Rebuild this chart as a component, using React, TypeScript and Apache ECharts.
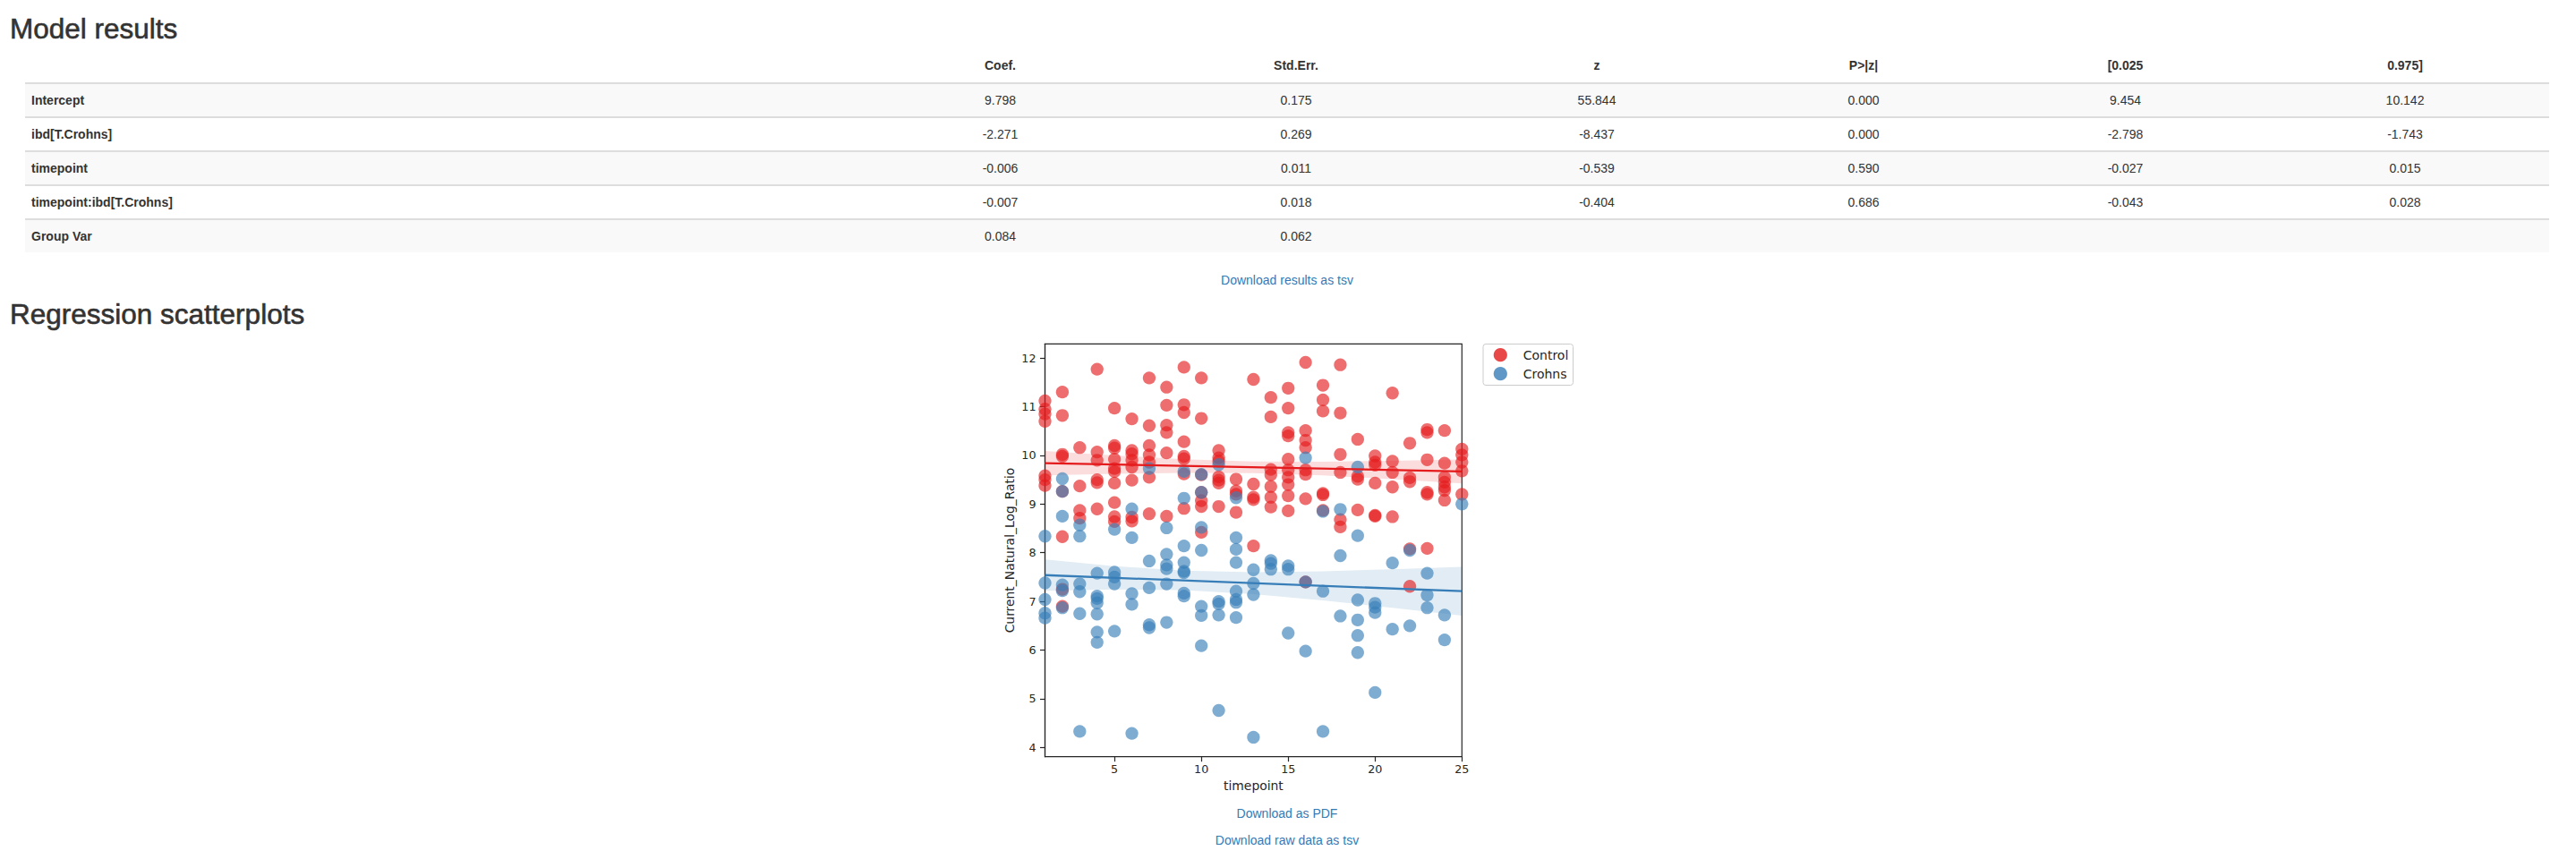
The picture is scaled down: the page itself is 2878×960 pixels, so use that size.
import React, { useEffect, useRef } from "react";
import * as echarts from "echarts";

// ---------------- DATA ----------------
const tableColumns = ["Coef.", "Std.Err.", "z", "P>|z|", "[0.025", "0.975]"];
const tableRowLabels = ["Intercept", "ibd[T.Crohns]", "timepoint", "timepoint:ibd[T.Crohns]", "Group Var"];
const tableCells = [
  ["9.798", "0.175", "55.844", "0.000", "9.454", "10.142"],
  ["-2.271", "0.269", "-8.437", "0.000", "-2.798", "-1.743"],
  ["-0.006", "0.011", "-0.539", "0.590", "-0.027", "0.015"],
  ["-0.007", "0.018", "-0.404", "0.686", "-0.043", "0.028"],
  ["0.084", "0.062", "", "", "", ""],
];

const groupNames = ["Control", "Crohns"];
const timepoints = [1, 2, 3, 4, 5, 6, 7, 8, 9, 10, 11, 12, 13, 14, 15, 16, 17, 18, 19, 20, 21, 22, 23, 24, 25];

// Current_Natural_Log_Ratio per timepoint, Control group
const controlByTimepoint = [
  [11.12, 10.95, 10.85, 10.7, 9.58, 9.5, 9.38],
  [11.3, 10.82, 10.02, 9.98, 9.26, 8.33, 7.25, 6.9],
  [10.16, 9.37, 8.87, 8.71],
  [11.77, 10.07, 9.9, 9.5, 9.44, 8.9],
  [10.97, 10.2, 10.15, 9.92, 9.73, 9.67, 9.43, 9.03, 8.74, 8.64],
  [10.75, 10.1, 10.03, 9.9, 9.76, 9.49, 8.73, 8.65],
  [11.59, 10.61, 10.2, 10.01, 9.86, 9.55, 8.8],
  [11.4, 11.03, 10.62, 10.47, 10.05, 8.75],
  [11.81, 11.04, 10.88, 10.28, 9.98, 9.93, 9.62, 8.91],
  [11.59, 10.76, 9.6, 9.24, 9.07, 8.95, 8.42],
  [10.1, 9.95, 9.88, 9.56, 9.49, 9.43, 8.95],
  [9.51, 9.27, 9.2, 8.83],
  [11.56, 9.41, 9.14, 9.09, 8.14],
  [11.19, 10.79, 9.71, 9.6, 9.36, 9.14, 8.94],
  [11.38, 10.97, 10.47, 10.4, 9.92, 9.7, 9.55, 9.4, 9.17, 8.86],
  [11.91, 10.51, 10.31, 10.16, 9.7, 9.61, 9.11, 7.4],
  [11.44, 11.14, 10.91, 9.22, 9.19, 8.87],
  [11.86, 10.87, 10.02, 9.65, 8.68, 8.53],
  [10.33, 9.57, 9.51, 8.88],
  [9.99, 9.86, 9.8, 9.43, 8.77, 8.75],
  [11.28, 9.88, 9.65, 9.35, 8.74],
  [10.25, 9.54, 9.46, 8.08, 7.31],
  [10.53, 10.47, 9.91, 9.24, 9.2, 8.09],
  [10.51, 9.84, 9.55, 9.45, 9.35, 9.28, 9.08],
  [10.13, 10.01, 9.86, 9.68, 9.2],
];

// Current_Natural_Log_Ratio per timepoint, Crohns group
const crohnsByTimepoint = [
  [8.34, 7.38, 7.04, 6.76, 6.66],
  [9.52, 9.26, 8.75, 7.34, 7.22, 6.87],
  [8.57, 8.34, 7.36, 7.2, 6.75, 4.33],
  [7.58, 7.11, 7.06, 6.97, 6.74, 6.37, 6.16],
  [8.48, 7.6, 7.5, 7.36, 6.39],
  [8.9, 8.31, 7.16, 6.94, 4.29],
  [9.73, 7.83, 7.28, 6.52, 6.46],
  [8.51, 7.97, 7.75, 7.67, 7.36, 6.57],
  [9.67, 9.12, 8.14, 7.8, 7.62, 7.59, 7.17, 7.11],
  [9.61, 9.24, 8.52, 8.05, 6.9, 6.71, 6.09],
  [9.81, 7.0, 6.95, 6.72, 4.76],
  [9.13, 8.31, 8.07, 7.8, 7.21, 7.04, 6.98, 6.67],
  [7.65, 7.37, 7.14, 4.21],
  [7.84, 7.78, 7.66],
  [7.73, 7.66, 6.35],
  [9.95, 7.4, 5.98],
  [8.85, 7.21, 4.33],
  [8.89, 7.94, 6.7],
  [9.76, 8.35, 7.03, 6.62, 6.3, 5.95],
  [6.96, 6.88, 6.77, 5.13],
  [7.79, 6.43],
  [8.05, 6.5],
  [7.58, 7.13, 6.87],
  [6.72, 6.21],
  [9.0],
];

// regression fits (read at the ends) and confidence bands
const fitTimepoints = [1, 25];
const controlFit = [9.84, 9.67];
const crohnsFit = [7.54, 7.21];
const bandTimepoints = [1, 5, 9, 13, 17, 21, 25];
const controlBandUpper = [10.09, 10.0, 9.92, 9.875, 9.87, 9.89, 9.915];
const controlBandLower = [9.59, 9.62, 9.64, 9.635, 9.59, 9.51, 9.425];
const crohnsBandUpper = [7.86, 7.725, 7.63, 7.6, 7.62, 7.66, 7.71];
const crohnsBandLower = [7.22, 7.245, 7.23, 7.15, 7.02, 6.87, 6.71];

const xTicks = [5, 10, 15, 20, 25];
const yTicks = [4, 5, 6, 7, 8, 9, 10, 11, 12];

// ---------------- STYLE / LAYOUT ----------------
const PAGE_FONT = "'Liberation Sans', Arial, Helvetica, sans-serif";
const PLOT_FONT = "'DejaVu Sans', sans-serif";
const TEXT = "#333333";
const LINK = "#337ab7";
const AXIS = "#262626";
const RED = "#e41a1c";
const BLUE = "#377eb8";
const RED_PT = "rgba(228,26,28,0.8)";
const BLUE_PT = "rgba(55,126,184,0.8)";

const colCenters = [1117.5, 1448, 1784, 2082, 2374.5, 2687];
const tableLeft = 28;
const tableWidth = 2820;
const headerBorderY = 92;
const rowPitch = 38;

function flatten(groups: number[][]) {
  const out: number[][] = [];
  groups.forEach((vals, i) => vals.forEach((v) => out.push([timepoints[i], v])));
  return out;
}

function bandSeries(name: string, upper: number[], lower: number[], fill: string) {
  return {
    type: "custom",
    name,
    silent: true,
    data: [[bandTimepoints[0], upper[0]]],
    renderItem: (_params: any, api: any) => {
      const pts: number[][] = [];
      for (let i = 0; i < bandTimepoints.length; i++) pts.push(api.coord([bandTimepoints[i], upper[i]]));
      for (let i = bandTimepoints.length - 1; i >= 0; i--) pts.push(api.coord([bandTimepoints[i], lower[i]]));
      return { type: "polygon", shape: { points: pts }, style: { fill } };
    },
  };
}

function txt(text: string, x: number, y: number, opts: any = {}) {
  const align = opts.align || "left";
  const style: any = {
    text,
    fill: opts.fill || TEXT,
    fontSize: opts.size || 14,
    fontFamily: opts.family || PAGE_FONT,
    fontWeight: opts.weight || "normal",
    align,
    textAlign: align,
    verticalAlign: "middle",
    textVerticalAlign: "middle",
  };
  if (opts.strokeWidth) {
    style.stroke = opts.fill || TEXT;
    style.lineWidth = opts.strokeWidth;
  }
  return { type: "text", x, y, silent: true, style };
}

function buildGraphics() {
  const els: any[] = [];
  els.push(txt("Model results", 11, 31.7, { size: 31.5, strokeWidth: 0.6 }));
  // table rows
  tableRowLabels.forEach((_, i) => {
    const top = headerBorderY + i * rowPitch;
    els.push({
      type: "rect",
      silent: true,
      shape: { x: tableLeft, y: top + 2, width: tableWidth, height: rowPitch - 2 },
      style: { fill: i % 2 === 0 ? "#f9f9f9" : "#ffffff" },
    });
    els.push({
      type: "rect",
      silent: true,
      shape: { x: tableLeft, y: top, width: tableWidth, height: 2 },
      style: { fill: "#dddddd" },
    });
  });
  tableColumns.forEach((c, j) => {
    els.push(txt(c, colCenters[j], 73.3, { weight: "bold", align: "center" }));
  });
  tableRowLabels.forEach((lab, i) => {
    const cy = headerBorderY + i * rowPitch + 20;
    els.push(txt(lab, 35, cy, { weight: "bold" }));
    tableCells[i].forEach((v, j) => {
      if (v) els.push(txt(v, colCenters[j], cy, { align: "center" }));
    });
  });
  els.push(txt("Download results as tsv", 1438, 312.7, { fill: LINK, align: "center" }));
  els.push(txt("Regression scatterplots", 11, 351, { size: 31.5, strokeWidth: 0.6 }));
  els.push(txt("Download as PDF", 1438, 909, { fill: LINK, align: "center" }));
  els.push(txt("Download raw data as tsv", 1438, 939, { fill: LINK, align: "center" }));

  // legend (matplotlib style box)
  els.push({
    type: "rect",
    silent: true,
    shape: { x: 1657, y: 384.5, width: 100.5, height: 46, r: 3 },
    style: { fill: "#ffffff", stroke: "#cccccc", lineWidth: 1 },
  });
  const legendColors = [RED_PT, BLUE_PT];
  groupNames.forEach((g, i) => {
    const cy = 396.7 + i * 21;
    els.push({
      type: "circle",
      silent: true,
      shape: { cx: 1676.3, cy, r: 7.6 },
      style: { fill: legendColors[i] },
    });
    els.push(txt(g, 1701.7, cy, { size: 14, family: PLOT_FONT, fill: AXIS }));
  });
  return els;
}

function buildOption() {
  const axisLineStyle = { color: AXIS, width: 1.2 };
  return {
    animation: false,
    backgroundColor: "#ffffff",
    graphic: { elements: buildGraphics() },
    grid: {
      left: 1167.5,
      top: 384.3,
      width: 465.8,
      height: 461.4,
      show: true,
      borderColor: AXIS,
      borderWidth: 1.2,
      backgroundColor: "transparent",
      containLabel: false,
      outerBoundsMode: "none",
    },
    xAxis: {
      type: "value",
      min: 1,
      max: 25,
      name: "timepoint",
      nameLocation: "middle",
      nameGap: 25,
      nameTextStyle: { fontSize: 13.9, color: AXIS, fontFamily: PLOT_FONT },
      axisLine: { show: true, onZero: false, lineStyle: axisLineStyle },
      axisTick: { show: true, length: 5.5, lineStyle: axisLineStyle, customValues: xTicks },
      axisLabel: { customValues: xTicks, margin: 7, fontSize: 12.7, color: AXIS, fontFamily: PLOT_FONT },
      splitLine: { show: false },
    },
    yAxis: {
      type: "value",
      min: 3.81,
      max: 12.29,
      name: "Current_Natural_Log_Ratio",
      nameLocation: "middle",
      nameGap: 33,
      nameRotate: 90,
      nameTextStyle: { fontSize: 13.9, color: AXIS, fontFamily: PLOT_FONT },
      axisLine: { show: true, onZero: false, lineStyle: axisLineStyle },
      axisTick: { show: true, length: 5.5, lineStyle: axisLineStyle, customValues: yTicks },
      axisLabel: { customValues: yTicks, margin: 10, fontSize: 12.7, color: AXIS, fontFamily: PLOT_FONT },
      splitLine: { show: false },
    },
    series: [
      {
        type: "scatter",
        name: groupNames[0],
        data: flatten(controlByTimepoint),
        symbol: "circle",
        symbolSize: 14.3,
        itemStyle: { color: RED_PT },
        silent: true,
      },
      bandSeries("Control CI", controlBandUpper, controlBandLower, "rgba(228,26,28,0.15)"),
      {
        type: "line",
        name: "Control fit",
        data: fitTimepoints.map((t, i) => [t, controlFit[i]]),
        showSymbol: false,
        symbol: "none",
        lineStyle: { color: RED, width: 2.3 },
        silent: true,
      },
      {
        type: "scatter",
        name: groupNames[1],
        data: flatten(crohnsByTimepoint),
        symbol: "circle",
        symbolSize: 14.3,
        itemStyle: { color: BLUE_PT },
        silent: true,
      },
      bandSeries("Crohns CI", crohnsBandUpper, crohnsBandLower, "rgba(55,126,184,0.15)"),
      {
        type: "line",
        name: "Crohns fit",
        data: fitTimepoints.map((t, i) => [t, crohnsFit[i]]),
        showSymbol: false,
        symbol: "none",
        lineStyle: { color: BLUE, width: 2.3 },
        silent: true,
      },
    ],
  };
}

export default function App() {
  const ref = useRef<HTMLDivElement>(null);
  useEffect(() => {
    if (!ref.current) return;
    const chart = echarts.init(ref.current, null, { renderer: "svg", width: 2878, height: 960 });
    chart.setOption(buildOption() as any);
    return () => chart.dispose();
  }, []);
  return (
    <div
      ref={ref}
      style={{ position: "fixed", left: 0, top: 0, width: 2878, height: 960, background: "#ffffff" }}
    />
  );
}
